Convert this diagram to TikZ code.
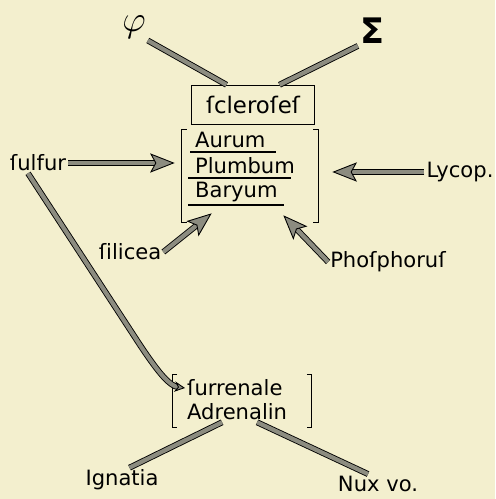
\documentclass[tikz,border=0pt]{standalone}
\usepackage{fontspec}
\setmainfont{DejaVu Sans}
\usepackage{tikz}
\usepackage{xcolor}
\usetikzlibrary{arrows.meta}
\definecolor{paper}{RGB}{243,239,206}
\definecolor{shaft}{RGB}{140,140,128}
\tikzstyle{lbl} = [font=\fontsize{12}{14}\selectfont, inner sep=1pt]
\tikzstyle{pipe} = [draw=black, line width=0.5pt, double=shaft, double distance=2.4pt]
\tikzstyle{arrow} = [pipe, -{Stealth[length=14pt, width=11pt, inset=3pt, fill=shaft]}]
\tikzstyle{bracket} = [line width=0.7pt]

\begin{document}
\begin{tikzpicture}[x=0.02cm, y=-0.02cm]
        \fill[paper] (0,0) rectangle (495,499);
        \useasboundingbox (0,0) rectangle (495,499);

        % top of the scheme
        \node[lbl, font=\fontsize{21}{22}\selectfont] (phi) at (134,27) {$\varphi$};
        \node[lbl, font=\fontsize{20}{22}\selectfont\bfseries] (sigma) at (372,31) {Σ};
        \node[lbl, font=\fontsize{13}{15}\selectfont, draw, line width=0.8pt, minimum width=2.46cm, minimum height=0.78cm] (scl) at (253,105) {ſcleroſeſ};

        % metals
        \node[minimum width=2.72cm, minimum height=1.84cm] (metals) at (250,176) {};
        \node[lbl, anchor=west] (aurum) at (193,140) {Aurum};
        \node[lbl, anchor=west] (plumbum) at (193,166) {Plumbum};
        \node[lbl, anchor=west] (baryum) at (193,192) {Baryum};
        \draw[line width=0.8pt] (190,152) -- (276,152);
        \draw[line width=0.8pt] (188,178) -- (291,178);
        \draw[line width=0.8pt] (188,205) -- (284,205);

        \node[lbl] (sulfur) at (38,163) {ſulfur};
        \node[lbl] (lycop) at (460,172) {Lycop.};
        \node[lbl] (silicea) at (130,252) {ſilicea};
        \node[lbl] (phosphorus) at (388,262) {Phoſphoruſ};

        % glands
        \node[minimum width=2.78cm, minimum height=1.06cm] (glands) at (242,401) {};
        \node[lbl, anchor=west] (surrenale) at (185,388) {ſurrenale};
        \node[lbl, anchor=west] (adrenalin) at (185,412) {Adrenalin};

        \node[lbl] (ignatia) at (122,480) {Ignatia};
        \node[lbl] (nux) at (378,484) {Nux vo.};

        \foreach \b in {metals, glands} {
            \draw[bracket] ([xshift=0.1cm]\b.north west) -- (\b.north west) -- (\b.south west) -- ++(0.1cm,0);
            \draw[bracket] ([xshift=-0.1cm]\b.north east) -- (\b.north east) -- (\b.south east) -- ++(-0.1cm,0);
        }

        % connectors
        \draw[pipe] (phi.south east) -- ([xshift=-0.53cm]scl.north);
        \draw[pipe] (sigma.south west) -- ([xshift=0.53cm]scl.north);
        \draw[arrow] (sulfur.east) -- ([xshift=-0.14cm]sulfur.east -| metals.west);
        \draw[arrow] (lycop.west) -- ([xshift=0.28cm]lycop.west -| metals.east);
        \draw[arrow] (silicea.east) -- ([shift={(0.6cm,0.18cm)}]metals.south west);
        \draw[arrow] (phosphorus.west) -- ([shift={(-0.7cm,0.14cm)}]metals.south east);
        \draw[pipe, -{Stealth[length=6pt, width=6pt, fill=shaft]}] ([xshift=-0.2cm]sulfur.south) -- (140,345) .. controls (160,375) and (170,386) .. (surrenale.west);
        \draw[pipe] ([xshift=-0.3cm]adrenalin.south) -- ([xshift=0.15cm]ignatia.north);
        \draw[pipe] ([xshift=0.4cm]adrenalin.south) -- ([xshift=-0.2cm]nux.north);
\end{tikzpicture}
\end{document}
